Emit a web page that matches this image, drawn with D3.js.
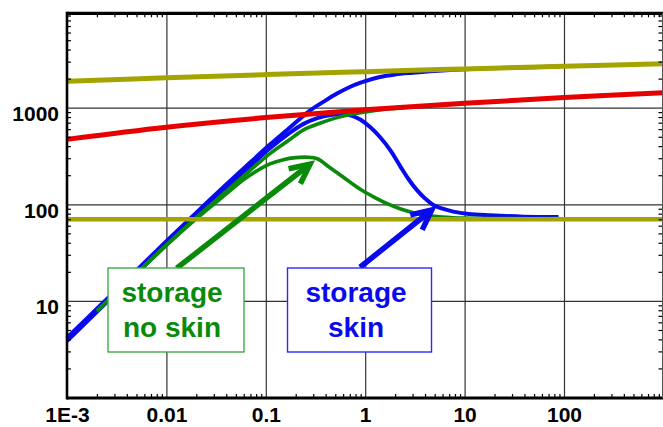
<!DOCTYPE html>
<html>
<head>
<meta charset="utf-8">
<script src="https://cdn.jsdelivr.net/npm/d3@7.9.0/dist/d3.min.js"></script>
<style>
html, body { margin: 0; padding: 0; background: #fff; }
svg { display: block; }
text { font-family: "Liberation Sans", Arial, sans-serif; font-weight: bold; }
</style>
</head>
<body>
<svg id="chart" width="663" height="427"></svg>
<script>
// tick values and labels
const xTicks = [1e-3, 0.01, 0.1, 1, 10, 100];
const xTickLabels = ['1E-3', '0.01', '0.1', '1', '10', '100'];
const yTicks = [10, 100, 1000];
const yTickLabels = ['10', '100', '1000'];

// radial flow lines (time, value)
const radialNoSkin = [[0.001, 470], [0.01, 628], [0.1, 790], [1, 950], [10, 1110], [100, 1272], [1000, 1430]];
const radialSkin = [[0.001, 1880], [0.01, 2040], [0.1, 2200], [1, 2360], [10, 2520], [100, 2680], [1000, 2850]];
const radialDerivative = [[0.001, 70], [1000, 70]];

// storage + skin
const skinPressure = [[0.001, 4.15], [0.002, 8.3], [0.005, 20.7], [0.01, 41.5], [0.02, 82], [0.04, 160], [0.07, 272],
  [0.11, 415], [0.17, 610], [0.28, 940], [0.4, 1190], [0.52, 1400], [0.7, 1640], [0.9, 1820], [1.4, 2080],
  [2, 2210], [3, 2300], [5, 2400], [10, 2500], [30, 2590], [90, 2670]];
const skinDerivative = [[0.001, 3.85], [0.002, 7.7], [0.005, 19.2], [0.01, 38.5], [0.02, 76], [0.04, 148], [0.07, 250],
  [0.11, 380], [0.17, 540], [0.24, 680], [0.33, 780], [0.45, 840], [0.6, 860], [0.75, 820], [0.9, 750],
  [1.12, 630], [1.4, 500], [1.8, 360], [2.24, 250], [2.7, 185], [3.3, 141], [4, 115], [4.8, 99], [6, 90],
  [7.7, 84], [11, 79.5], [18, 77], [39, 74.5], [88, 74]];

// storage, no skin
const noSkinPressure = [[0.002, 7.9], [0.005, 19.4], [0.01, 38], [0.02, 73], [0.04, 136], [0.07, 226],
  [0.11, 335], [0.17, 460], [0.24, 590], [0.35, 690], [0.5, 780], [0.7, 850], [1, 905], [1.5, 960],
  [2.5, 1005], [5, 1060], [10, 1108], [30, 1185], [90, 1265]];
const noSkinDerivative = [[0.002, 7.8], [0.005, 19.2], [0.01, 37.5], [0.02, 71], [0.04, 128], [0.06, 180],
  [0.08, 220], [0.11, 262], [0.15, 290], [0.2, 304], [0.26, 307], [0.33, 296], [0.44, 240], [0.6, 192],
  [0.76, 160], [0.9, 142], [1.2, 120], [1.64, 102], [2.24, 90], [3.05, 82], [4.2, 77], [6, 74], [10, 72],
  [30, 71], [90, 71]];

// annotations: arrows in data coordinates [tail, tip]
const greenArrow = [[0.0127, 21.8], [0.279, 261]];
const blueArrow = [[0.887, 22.3], [4.67, 87.3]];

const svg = d3.select('#chart');

const x = d3.scaleLog().domain([1e-3, 1e3]).range([67, 663.4]);
const y = d3.scaleLog().domain([1, 1e4]).range([397.5, 11.1]);

const plotLeft = 67, plotRight = 662.5, plotTop = 13.3, plotBottom = 398;

const blue = '#0a0aee';
const green = '#0a8a0a';

// grid
svg.append('g')
  .attr('transform', `translate(0,${plotBottom})`)
  .call(d3.axisBottom(x).tickValues(xTicks.slice(1)).tickSize(-(plotBottom - plotTop)).tickFormat(''))
  .call(g => g.select('.domain').remove())
  .selectAll('line').attr('stroke', '#333').attr('stroke-width', 1.2);

svg.append('g')
  .attr('transform', `translate(${plotLeft},0)`)
  .call(d3.axisLeft(y).tickValues(yTicks).tickSize(-(plotRight - plotLeft)).tickFormat(''))
  .call(g => g.select('.domain').remove())
  .selectAll('line').attr('stroke', '#333').attr('stroke-width', 1.2);

// curves
let line = d3.line()
  .x(d => x(d[0]))
  .y(d => y(d[1]))
  .curve(d3.curveCatmullRom.alpha(0.5));

function drawCurve(data, color, w) {
  svg.append('path')
    .attr('d', line(data))
    .attr('fill', 'none')
    .attr('stroke', color)
    .attr('stroke-width', w)
    .attr('stroke-linejoin', 'round');
}

drawCurve(skinPressure, blue, 4);
drawCurve(skinDerivative, blue, 4);
drawCurve(noSkinPressure, green, 3.6);
drawCurve(noSkinDerivative, green, 3.6);
drawCurve(radialNoSkin, '#e60000', 5);
drawCurve(radialSkin, '#a4a400', 5);
drawCurve(radialDerivative, '#a4a400', 4.5);

// minor ticks, pointing inward
let minorX = [];
[1e-3, 1e-2, 1e-1, 1, 10, 100].forEach(d => {
  for (let k = 2; k <= 9; k++) minorX.push(d * k);
});
let minorY = [];
[1, 10, 100, 1000].forEach(d => {
  for (let k = 2; k <= 9; k++) {
    if (y(d * k) > plotTop + 2) minorY.push(d * k);
  }
});

function tickStyle(g) {
  g.select('.domain').remove();
  g.selectAll('line').attr('stroke', '#000').attr('stroke-width', 1.2);
}

svg.append('g').attr('transform', `translate(0,${plotBottom})`)
  .call(d3.axisBottom(x).tickValues(minorX).tickSize(-4).tickFormat('')).call(tickStyle);
svg.append('g').attr('transform', `translate(0,${plotTop})`)
  .call(d3.axisTop(x).tickValues(minorX).tickSize(-4).tickFormat('')).call(tickStyle);
svg.append('g').attr('transform', `translate(${plotLeft},0)`)
  .call(d3.axisLeft(y).tickValues(minorY).tickSize(-4).tickFormat('')).call(tickStyle);
svg.append('g').attr('transform', `translate(${plotRight},0)`)
  .call(d3.axisRight(y).tickValues(minorY).tickSize(-4).tickFormat('')).call(tickStyle);

// frame
svg.append('line').attr('x1', plotLeft).attr('x2', plotRight + 0.5).attr('y1', plotTop).attr('y2', plotTop)
  .attr('stroke', '#000').attr('stroke-width', 3.2);
svg.append('line').attr('x1', plotLeft).attr('x2', plotRight + 0.5).attr('y1', plotBottom).attr('y2', plotBottom)
  .attr('stroke', '#000').attr('stroke-width', 2.8);
svg.append('line').attr('x1', plotLeft).attr('x2', plotLeft).attr('y1', plotTop - 1.5).attr('y2', plotBottom + 1.4)
  .attr('stroke', '#000').attr('stroke-width', 2.6);
svg.append('line').attr('x1', plotRight).attr('x2', plotRight).attr('y1', plotTop).attr('y2', plotBottom)
  .attr('stroke', '#555').attr('stroke-width', 1);

// tick labels
svg.append('g').attr('transform', `translate(0,${plotBottom})`)
  .call(d3.axisBottom(x).tickValues(xTicks).tickSize(0).tickPadding(0)
    .tickFormat((d, i) => xTickLabels[i]))
  .call(g => g.select('.domain').remove())
  .selectAll('text')
  .attr('y', 23.5).attr('dy', 0)
  .attr('font-size', 21)
  .attr('font-family', '"Liberation Sans", Arial, sans-serif')
  .attr('font-weight', 'bold')
  .attr('fill', '#000');

svg.append('g').attr('transform', `translate(${plotLeft},0)`)
  .call(d3.axisLeft(y).tickValues(yTicks).tickSize(0).tickPadding(8)
    .tickFormat((d, i) => yTickLabels[i]))
  .call(g => g.select('.domain').remove())
  .selectAll('text')
  .attr('dy', 13)
  .attr('font-size', 21)
  .attr('font-family', '"Liberation Sans", Arial, sans-serif')
  .attr('font-weight', 'bold')
  .attr('fill', '#000');

// arrows
function drawArrow(pts, color) {
  let x0 = x(pts[0][0]), y0 = y(pts[0][1]);
  let x1 = x(pts[1][0]), y1 = y(pts[1][1]);
  let ang = Math.atan2(y0 - y1, x0 - x1);
  let len = 22, spread = 0.45;
  let b1 = [x1 + len * Math.cos(ang - spread), y1 + len * Math.sin(ang - spread)];
  let b2 = [x1 + len * Math.cos(ang + spread), y1 + len * Math.sin(ang + spread)];
  svg.append('line')
    .attr('x1', x0).attr('y1', y0).attr('x2', x1 + 2 * Math.cos(ang)).attr('y2', y1 + 2 * Math.sin(ang))
    .attr('stroke', color).attr('stroke-width', 5.5);
  svg.append('path')
    .attr('d', `M${b1[0]},${b1[1]}L${x1},${y1}L${b2[0]},${b2[1]}`)
    .attr('fill', 'none')
    .attr('stroke', color)
    .attr('stroke-width', 5.5)
    .attr('stroke-linejoin', 'miter');
}
drawArrow(greenArrow, green);
drawArrow(blueArrow, blue);

// label boxes
function drawBox(x0, y0, x1, y1, border, color, lines, cx) {
  svg.append('rect')
    .attr('x', x0).attr('y', y0)
    .attr('width', x1 - x0).attr('height', y1 - y0)
    .attr('fill', '#fff')
    .attr('stroke', border)
    .attr('stroke-width', 1.4);
  lines.forEach((t, i) => {
    svg.append('text')
      .attr('x', cx)
      .attr('y', 302 + i * 35)
      .attr('text-anchor', 'middle')
      .attr('font-size', 28)
      .attr('fill', color)
      .text(t);
  });
}
drawBox(108, 268, 244, 352, '#44a844', green, ['storage', 'no skin'], 172);
drawBox(287.5, 268, 431.5, 352, '#2a2aff', blue, ['storage', 'skin'], 356);
</script>
</body>
</html>
